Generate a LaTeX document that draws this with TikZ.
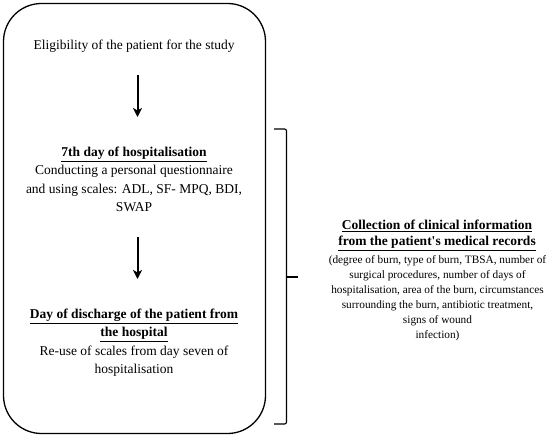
\documentclass[tikz,border=0pt]{standalone}
\usepackage{fontspec}
\setmainfont{Liberation Serif}
\usetikzlibrary{arrows.meta}
\begin{document}
\begin{tikzpicture}[x=1bp,y=-1bp,
  txt/.style={inner sep=0pt, align=center, anchor=north,
    font=\fontsize{13.5bp}{18.3bp}\selectfont},
  hdr/.style={inner sep=0pt, align=center, anchor=north,
    font=\fontsize{13.5bp}{16.2bp}\selectfont\bfseries},
  small/.style={inner sep=0pt, align=center, anchor=north,
    font=\fontsize{11.3bp}{15.1bp}\selectfont},
  flowarrow/.style={line width=2bp, -{Stealth[length=9bp,width=9bp,inset=2.5bp]}},
  bracepath/.style={line width=1.2bp, rounded corners=2bp}]
\useasboundingbox (0,0) rectangle (550,439);
\node[draw, line width=1.3bp, rounded corners=38bp, minimum width=262bp,
      minimum height=430bp, inner sep=0pt] (frame) at (134.5,218.5) {};
\node[txt] (elig) at (134,39.8) {Eligibility of the patient for the study};
\node[txt] (day7) at (134,146.7) {\textbf{\underline{7th day of hospitalisation}}\\
  Conducting a personal questionnaire\\
  and using scales: ADL, SF- MPQ, BDI,\\
  SWAP};
\node[txt] (disch) at (134,308.7) {\textbf{\underline{Day of discharge of the patient from}}\\
  \textbf{\underline{the hospital}}\\
  Re-use of scales from day seven of\\
  hospitalisation};
\coordinate (a1s) at (137.5,75);
\coordinate (a1e) at (137.5,117);
\coordinate (a2s) at (137.5,237);
\coordinate (a2e) at (137.5,279);
\draw[flowarrow] (a1s) -- (a1e);
\draw[flowarrow] (a2s) -- (a2e);
\coordinate (bt) at (274,129);
\coordinate (bb) at (274,424);
\coordinate (bspine) at (286.5,277);
\coordinate (btip) at (298,277);
\draw[bracepath] (bt) -- ++(12.5,0) |- (bb);
\draw[line width=1.2bp] (bspine) -- (btip);
\node[hdr] (colh) at (437,219.7) {\underline{Collection of clinical information}\\
  \underline{from the patient\textquotesingle s medical records}};
\node[small] (colb) at (437.5,255.2) {(degree of burn, type of burn, TBSA, number of\\
  surgical procedures, number of days of\\
  hospitalisation, area of the burn, circumstances\\
  surrounding the burn, antibiotic treatment,\\
  signs of wound\\
  infection)};
\end{tikzpicture}
\end{document}
